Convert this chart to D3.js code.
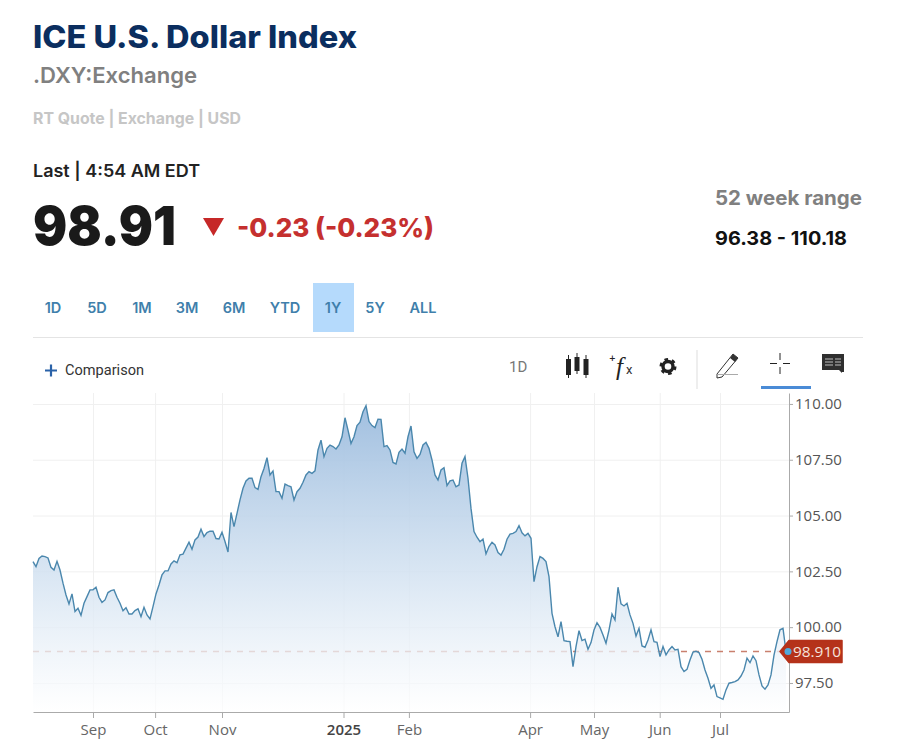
<!DOCTYPE html>
<html>
<head>
<meta charset="utf-8">
<title>ICE U.S. Dollar Index</title>
<script src="https://cdn.jsdelivr.net/npm/d3@7"></script>
<style>
  body { margin: 0; background: #fff; }
  svg { display: block; }
  text { font-family: "Inter", "Lato", sans-serif; }
  .axis text { font-family: "Open Sans", sans-serif; }
</style>
</head>
<body>
<div id="chart"></div>
<script>
// Daily closes, one per trading day
const closes = [
  102.94,102.71,103.08,103.19,103.16,103.10,102.68,102.56,102.95,102.56,
  101.97,101.44,101.04,101.49,100.70,100.85,100.53,101.07,101.37,101.67,
  101.67,101.79,101.34,101.11,101.22,101.55,101.64,101.67,101.34,101.07,
  100.74,100.87,100.59,100.59,100.74,100.82,100.47,100.89,100.55,100.37,
  100.92,101.49,101.89,102.34,102.52,102.52,102.83,102.97,102.89,103.24,
  103.27,103.54,103.81,103.49,103.91,104.04,104.39,104.06,104.24,104.30,
  104.30,103.97,103.95,104.25,103.84,103.37,105.14,104.50,105.10,105.70,
  106.22,106.55,106.67,106.67,106.25,106.17,106.74,107.11,107.59,106.82,
  107.00,106.07,106.07,105.77,106.41,106.34,106.29,105.70,106.07,106.22,
  106.49,106.82,106.97,106.89,107.00,107.94,108.38,107.64,108.01,108.16,
  108.09,107.98,108.16,108.53,109.38,108.83,108.23,108.53,109.03,109.18,
  109.65,109.92,109.21,109.03,108.94,109.32,109.31,108.09,108.13,107.94,
  107.38,107.31,107.83,107.98,107.79,108.53,109.01,107.86,107.56,107.74,
  108.16,108.28,108.01,107.49,106.82,106.59,107.04,107.14,106.34,106.55,
  106.59,106.29,106.37,107.34,107.64,106.67,105.32,104.28,104.03,103.83,
  103.95,103.28,103.61,103.80,103.68,103.34,103.23,103.49,103.94,104.17,
  104.20,104.28,104.55,104.23,104.09,104.20,103.98,102.04,102.71,103.16,
  103.08,102.94,102.26,100.62,100.02,99.57,100.25,99.40,99.37,99.35,
  98.23,99.13,99.84,99.40,99.46,99.01,99.31,99.87,100.20,99.99,
  99.65,99.28,99.87,100.59,100.32,101.79,101.04,100.95,101.07,100.55,
  100.17,99.60,99.95,99.16,99.10,99.43,99.88,99.35,99.32,98.68,
  99.13,98.76,98.98,99.13,98.98,99.01,98.23,98.01,98.11,98.53,
  98.88,98.92,98.86,98.56,98.08,97.71,97.26,97.41,96.89,96.83,
  96.77,97.19,97.49,97.52,97.56,97.64,97.81,98.08,98.61,98.41,
  98.71,98.50,97.86,97.37,97.22,97.41,97.86,98.75,99.35,99.88,
  99.95,98.91
];
const lastClose = 98.91;

const monthLabels = ["Sep", "Oct", "Nov", "2025", "Feb", "Apr", "May", "Jun", "Jul"];
const monthIndex = [20, 40.7, 63, 103.5, 125.3, 165.7, 187, 208.9, 229];
const priceTicks = [97.5, 100, 102.5, 105, 107.5, 110];

const rangeButtons = ["1D", "5D", "1M", "3M", "6M", "YTD", "1Y", "5Y", "ALL"];
const rangeCenters = [53, 97, 142, 187, 234, 285, 333, 375, 423];

const W = 903, H = 745;
const plot = { left: 33, right: 789, top: 393, bottom: 712 };

const svg = d3.select("#chart").append("svg").attr("width", W).attr("height", H);

function label(txt, x, y, size, weight, color, len) {
  const t = svg.append("text").attr("x", x).attr("y", y)
    .attr("font-size", size).attr("font-weight", weight).attr("fill", color).text(txt);
  if (len) t.attr("textLength", len).attr("lengthAdjust", "spacingAndGlyphs");
  return t;
}

// Header
label("ICE U.S. Dollar Index", 33, 48, 31, 800, "#0b2e5f", 324);
label(".DXY:Exchange", 33, 83, 22, 600, "#808080", 164);
label("RT Quote | Exchange | USD", 33, 124, 16, 700, "#c6c6c6", 208);
label("Last | 4:54 AM EDT", 33, 177, 17, 600, "#222222", 167);
label("98.91", 33, 245, 54, 900, "#1a1a1a", 143);
svg.append("path").attr("d", "M203,218H224L213.5,236Z").attr("fill", "#c62828");
label("-0.23 (-0.23%)", 237, 237, 26, 800, "#c5302f", 197);
label("52 week range", 715, 205, 20, 700, "#808080", 147);
label("96.38 - 110.18", 715, 245, 19, 700, "#111111", 132);

// Range buttons
svg.append("rect").attr("x", 313).attr("y", 283).attr("width", 41).attr("height", 49).attr("fill", "#b5dafc");
svg.selectAll(".range").data(rangeButtons).enter().append("text")
  .attr("class", "range")
  .attr("x", (d, i) => rangeCenters[i]).attr("y", 312.5)
  .attr("text-anchor", "middle").attr("font-size", 14.5).attr("font-weight", 600)
  .attr("fill", "#3f7fab").text(d => d);
svg.append("line").attr("x1", 33).attr("x2", 863).attr("y1", 337.5).attr("y2", 337.5).attr("stroke", "#e4e4e4");

// Toolbar
svg.append("path").attr("d", "M45,370.5H57M51,364.5V376.5").attr("stroke", "#2a62a8").attr("stroke-width", 2.2);
label("Comparison", 65, 375, 14, 400, "#333333", 79).style("font-family", "Roboto, sans-serif");
label("1D", 509, 372, 15, 400, "#777777").style("font-family", "Roboto, sans-serif");

// candles
const candles = [[568.5, 359, 375], [577, 357, 371], [586, 359, 375]];
candles.forEach(c => {
  svg.append("line").attr("x1", c[0]).attr("x2", c[0]).attr("y1", c[1] - 4).attr("y2", c[2] + 3).attr("stroke", "#222");
  svg.append("rect").attr("x", c[0] - 2.5).attr("y", c[1]).attr("width", 5).attr("height", c[2] - c[1]).attr("fill", "#222");
});
// fx
label("+", 609, 361, 8, 700, "#222").style("font-family", "DejaVu Sans");
label("f", 616, 375, 25, 400, "#222").style("font-family", "Liberation Serif").style("font-style", "italic");
label("x", 626, 374, 13, 400, "#333").style("font-family", "Roboto, sans-serif");
// gear
svg.append("circle").attr("cx", 668).attr("cy", 366.5).attr("r", 5).attr("fill", "none").attr("stroke", "#222").attr("stroke-width", 3.4);
svg.append("circle").attr("cx", 668).attr("cy", 366.5).attr("r", 7.2).attr("fill", "none").attr("stroke", "#222")
  .attr("stroke-width", 2.6).attr("stroke-dasharray", "3.6 3.94");
svg.append("line").attr("x1", 697).attr("x2", 697).attr("y1", 350).attr("y2", 389).attr("stroke", "#dddddd");
// pencil
svg.append("path").attr("d", "M717,374L733,354L738,358L722,377L717,378Z").attr("fill", "none").attr("stroke", "#333").attr("stroke-width", 1);
svg.append("path").attr("d", "M733,354L738,358L735,362L730,358Z").attr("fill", "#333");
svg.append("line").attr("x1", 717).attr("x2", 738).attr("y1", 374.5).attr("y2", 374.5).attr("stroke", "#aaa");
// crosshair
svg.append("path").attr("d", "M770,363.5H777M783,363.5H790M780,353V360M780,367V374").attr("stroke", "#222").attr("fill", "none");
svg.append("rect").attr("x", 761).attr("y", 386).attr("width", 50).attr("height", 3).attr("fill", "#4a8bd6");
// comment box
svg.append("path").attr("d", "M822,354H844V372H842V373L839,370H822Z").attr("fill", "#2f2f2f");
svg.append("path").attr("d", "M825,359H833M825,362H833M825,365H833M835,359H841M835,362H841M835,365H841").attr("stroke", "#cfcfcf").attr("stroke-width", 0.9);

// Scales
const x = d3.scaleLinear().domain([0, 252]).range([plot.left, plot.left + 756]);
const y = d3.scaleLinear().domain([96.2, 110.49]).range([plot.bottom, plot.top]);

// Gridlines
svg.append("g").attr("transform", "translate(" + plot.left + ",0)")
  .call(d3.axisLeft(y).tickValues(priceTicks).tickSize(-(plot.right - plot.left)).tickFormat(""))
  .call(g => g.select(".domain").remove())
  .selectAll("line").attr("stroke", "#f0f0f0");
svg.append("g").attr("transform", "translate(0," + plot.top + ")")
  .call(d3.axisBottom(x).tickValues(monthIndex).tickSize(plot.bottom - plot.top).tickFormat(""))
  .call(g => g.select(".domain").remove())
  .selectAll("line").attr("stroke", "#f0f0f0");

// Last price dashes go under the area, so they fade where the area covers them
svg.append("line")
  .attr("x1", plot.left).attr("x2", x(closes.length - 1))
  .attr("y1", y(lastClose)).attr("y2", y(lastClose))
  .attr("stroke", "#c9806e").attr("stroke-width", 1.6).attr("stroke-dasharray", "6 6");

// Area gradient
const grad = svg.append("defs").append("linearGradient")
  .attr("id", "areaFill").attr("x1", 0).attr("x2", 0).attr("y1", 0).attr("y2", 1);
grad.append("stop").attr("offset", "0%").attr("stop-color", "#9cbcde").attr("stop-opacity", 0.95);
grad.append("stop").attr("offset", "55%").attr("stop-color", "#d3e2f1").attr("stop-opacity", 0.85);
grad.append("stop").attr("offset", "100%").attr("stop-color", "#ffffff").attr("stop-opacity", 0.7);

svg.append("path").datum(closes)
  .attr("fill", "url(#areaFill)")
  .attr("d", d3.area().x((d, i) => x(i)).y0(plot.bottom).y1(d => y(d)));

svg.append("path").datum(closes)
  .attr("fill", "none").attr("stroke", "#4a87ad").attr("stroke-width", 1.4)
  .attr("d", d3.line().x((d, i) => x(i)).y(d => y(d)));

// Axes
const xAxis = svg.append("g").attr("class", "axis").attr("transform", "translate(0," + plot.bottom + ")")
  .call(d3.axisBottom(x).tickValues(monthIndex).tickSize(6).tickSizeOuter(0).tickPadding(6)
    .tickFormat((d, i) => monthLabels[i]));
xAxis.select(".domain").attr("stroke", "#aaaaaa");
xAxis.selectAll("line").attr("stroke", "#aaaaaa");
xAxis.selectAll("text").attr("font-size", 15).attr("fill", "#666666")
  .filter(d => d === 103.5).attr("font-weight", 600).attr("fill", "#444444");

const yAxis = svg.append("g").attr("class", "axis").attr("transform", "translate(" + plot.right + ",0)")
  .call(d3.axisRight(y).tickValues(priceTicks).tickSize(4).tickSizeOuter(0).tickPadding(2)
    .tickFormat(d3.format(".2f")));
yAxis.select(".domain").attr("stroke", "#aaaaaa");
yAxis.selectAll("line").attr("stroke", "#aaaaaa");
yAxis.selectAll("text").attr("font-size", 15).attr("fill", "#555555");

// Last price tag
const tagY = y(lastClose);
svg.append("path")
  .attr("d", "M780," + tagY + "L789," + (tagY - 11) + "H842V" + (tagY + 11) + "H789Z")
  .attr("fill", "#b5321a").attr("stroke", "#b5321a").attr("stroke-width", 1.5).attr("stroke-linejoin", "round");
svg.append("circle").attr("cx", x(closes.length - 1) + 2).attr("cy", tagY).attr("r", 3.5).attr("fill", "#4fa9dc");
label("98.910", 793, tagY + 5.5, 15, 400, "#f6e3dc", 48).style("font-family", "Open Sans, sans-serif");
</script>
</body>
</html>
